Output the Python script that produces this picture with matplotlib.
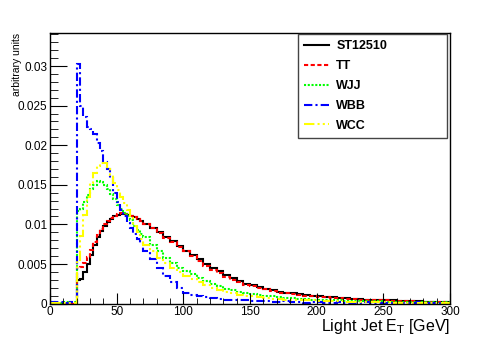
import numpy as np
import matplotlib
matplotlib.use("Agg")
import matplotlib.pyplot as plt
from matplotlib.ticker import MultipleLocator

plt.rcParams['font.family'] = ['Liberation Sans', 'DejaVu Sans']

# bin edges: 5 GeV below 20, 2.5 GeV from 20 to 70, 5 GeV above
edges = np.concatenate([np.arange(0, 20, 5.0), np.arange(20, 70, 2.5), np.arange(70, 300.1, 5.0)])

low_st = [0, 0, 0, 0]
low_tt = [0, 0, 0, 0]
low_wjj = [0.0002, 0.0001, 0.0002, 0.0002]
low_wbb = [0.0002, 0.0002, 0.0001, 0.0002]
low_wcc = [0.0001, 0.0001, 0.0001, 0.0001]

mid_st = [0.0030, 0.0031, 0.0040, 0.0050, 0.0062, 0.0074, 0.0084, 0.0092, 0.0098, 0.0103,
          0.0107, 0.0110, 0.0112, 0.0113, 0.0113, 0.0112, 0.0111, 0.0109, 0.0107, 0.0104]
mid_tt = [0.0045, 0.0046, 0.0051, 0.0059, 0.0068, 0.0078, 0.0087, 0.0094, 0.0100, 0.0104,
          0.0108, 0.0111, 0.0113, 0.0114, 0.0113, 0.0112, 0.0111, 0.0109, 0.0107, 0.0104]
mid_wjj = [0.0117, 0.0120, 0.0128, 0.0137, 0.0145, 0.0150, 0.0155, 0.0154, 0.0150, 0.0145,
           0.0138, 0.0132, 0.0125, 0.0120, 0.0115, 0.0110, 0.0105, 0.0098, 0.0093, 0.0088]
mid_wbb = [0.0302, 0.0250, 0.0236, 0.0223, 0.0220, 0.0214, 0.0203, 0.0193, 0.0179, 0.0170,
           0.0158, 0.0140, 0.0128, 0.0118, 0.0110, 0.0102, 0.0095, 0.0088, 0.0082, 0.0076]
mid_wcc = [0.0055, 0.0085, 0.0112, 0.0135, 0.0152, 0.0165, 0.0174, 0.0178, 0.0177, 0.0170,
           0.0162, 0.0152, 0.0143, 0.0135, 0.0127, 0.0118, 0.0108, 0.0098, 0.0090, 0.0082]

tail_st = [0.0100, 0.0095, 0.0090, 0.0084, 0.0079, 0.0073, 0.0067, 0.0062, 0.0056, 0.0050,
           0.0045, 0.0041, 0.0036, 0.0032, 0.0029, 0.0025, 0.0023, 0.0021, 0.0019, 0.0017,
           0.0015, 0.0014, 0.0013, 0.0012, 0.0011, 0.0010, 0.0009, 0.0008, 0.0008, 0.0007,
           0.0007, 0.0006, 0.0006, 0.0005, 0.0005, 0.0004, 0.0004, 0.0004, 0.0003, 0.0003,
           0.0003, 0.0003, 0.0002, 0.0002, 0.0002, 0.0002]
tail_tt = [0.0100, 0.0095, 0.0089, 0.0083, 0.0078, 0.0072, 0.0066, 0.0060, 0.0054, 0.0048,
           0.0043, 0.0039, 0.0034, 0.0030, 0.0027, 0.0024, 0.0022, 0.0020, 0.0018, 0.0016,
           0.0014, 0.0013, 0.0012, 0.0011, 0.0010, 0.0009, 0.0008, 0.0008, 0.0007, 0.0007,
           0.0006, 0.0006, 0.0005, 0.0005, 0.0004, 0.0004, 0.0004, 0.0003, 0.0003, 0.0003,
           0.0003, 0.0002, 0.0002, 0.0002, 0.0002, 0.0002]
tail_wjj = [0.0084, 0.0074, 0.0066, 0.0058, 0.0051, 0.0045, 0.0041, 0.0037, 0.0032, 0.0028,
            0.0025, 0.0022, 0.0019, 0.0017, 0.0015, 0.0013, 0.0012, 0.0011, 0.0010, 0.0009,
            0.0008, 0.0007, 0.0007, 0.0006, 0.0006, 0.0005, 0.0005, 0.0004, 0.0004, 0.0004,
            0.0003, 0.0003, 0.0003, 0.0003, 0.0003, 0.0003, 0.0002, 0.0002, 0.0002, 0.0002,
            0.0002, 0.0002, 0.0002, 0.0002, 0.0001, 0.0002]
tail_wbb = [0.0066, 0.0056, 0.0045, 0.0035, 0.0027, 0.0020, 0.0014, 0.0011, 0.0009, 0.0008,
            0.0007, 0.0006, 0.0005, 0.0005, 0.0004, 0.0004, 0.0003, 0.0003, 0.0003, 0.0002,
            0.0002, 0.0003, 0.0002, 0.0002, 0.0001, 0.0002, 0.0002, 0.0001, 0.0001, 0.0002,
            0.0001, 0.0001, 0.0001, 0.0002, 0.0001, 0.0001, 0.0001, 0.0001, 0.0001, 0.0001,
            0.0001, 0.0002, 0.0001, 0.0001, 0.0001, 0.0001]
tail_wcc = [0.0074, 0.0066, 0.0058, 0.0051, 0.0045, 0.0040, 0.0035, 0.0031, 0.0027, 0.0024,
            0.0020, 0.0017, 0.0015, 0.0013, 0.0011, 0.0010, 0.0009, 0.0008, 0.0007, 0.0006,
            0.0006, 0.0005, 0.0005, 0.0004, 0.0004, 0.0004, 0.0003, 0.0003, 0.0003, 0.0003,
            0.0002, 0.0002, 0.0002, 0.0002, 0.0002, 0.0002, 0.0002, 0.0001, 0.0001, 0.0001,
            0.0001, 0.0001, 0.0001, 0.0001, 0.0001, 0.0001]

series = [
    ("ST12510", low_st + mid_st + tail_st, "black", "-"),
    ("TT", low_tt + mid_tt + tail_tt, "#ff0000", (0, (2, 1.2))),
    ("WJJ", low_wjj + mid_wjj + tail_wjj, "#00ff00", (0, (1, 0.8))),
    ("WBB", low_wbb + mid_wbb + tail_wbb, "#0000ff", (0, (4, 1.5, 1, 1.5))),
    ("WCC", low_wcc + mid_wcc + tail_wcc, "#ffff00", (0, (5, 1.5, 1, 1.5, 1, 1.5))),
]

W, H = 498, 338
fig = plt.figure(figsize=(W / 100, H / 100), dpi=100)
ax = fig.add_axes([50 / W, (H - 303.6) / H, 400 / W, (303.6 - 33) / H])

for name, vals, color, ls in series:
    ax.stairs(vals, edges, color=color, linestyle=ls, linewidth=1.5, label=name, baseline=None)

ax.set_xlim(0, 300)
ax.set_ylim(0, 0.03417)
ax.xaxis.set_major_locator(MultipleLocator(50))
ax.xaxis.set_minor_locator(MultipleLocator(10))
ax.yaxis.set_major_locator(MultipleLocator(0.005))
ax.yaxis.set_minor_locator(MultipleLocator(0.001))
ax.tick_params(which='both', direction='in', top=False, right=False, labelsize=8.5, pad=2)
ax.tick_params(axis='y', which='major', length=12)
ax.tick_params(axis='y', which='minor', length=6)
ax.tick_params(axis='x', which='major', length=8)
ax.tick_params(axis='x', which='minor', length=4)
ax.yaxis.set_major_formatter(plt.FuncFormatter(lambda v, p: "0" if v == 0 else f"{v:g}"))
for s in ax.spines.values():
    s.set_linewidth(1.0)

ax.set_xlabel(r"Light Jet E$_{\mathrm{T}}$ [GeV]", fontsize=11.5, loc='right', va='baseline')
ax.xaxis.set_label_coords(1.0, -0.102)
ax.set_ylabel("arbitrary units", fontsize=7.5, loc='top')
ax.yaxis.set_label_coords(-0.07, 1.0)

leg = ax.legend(loc='upper left', bbox_to_anchor=(298 / W, (H - 135) / H, 149 / W, 101 / H),
                bbox_transform=fig.transFigure, mode='expand', fancybox=False,
                edgecolor='#444444', framealpha=1, handlelength=2.0, handletextpad=0.56,
                labelspacing=0.63, borderaxespad=0, borderpad=0.5,
                prop={'weight': 'bold', 'size': 9})
leg.get_frame().set_linewidth(1.0)

fig.savefig("out.png", dpi=100)
